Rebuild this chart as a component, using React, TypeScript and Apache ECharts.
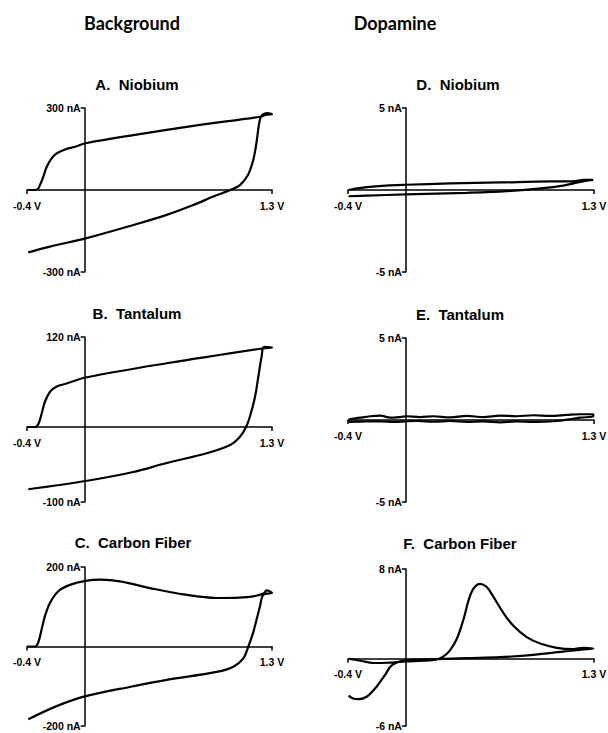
import React, { useEffect, useRef } from "react";
import * as echarts from "echarts";

// Cyclic voltammograms: [potential (V), current (nA)]
const bgNiobium: [number, number][] = [
  [-0.4, 0], [-0.333, 1], [-0.31, 18], [-0.287, 49], [-0.263, 85], [-0.229, 116], [-0.194, 134],
  [-0.136, 148], [-0.067, 158], [0.007, 171], [0.338, 201], [0.8, 238], [1.217, 268], [1.263, 276],
  [1.3, 277], [1.27, 281], [1.235, 276], [1.215, 255], [1.19, 165], [1.167, 104], [1.133, 55],
  [1.078, 18], [1.01, 0], [0.893, -24], [0.754, -55], [0.569, -91], [0.338, -128],
  [0.007, -177], [-0.24, -207], [-0.391, -228],
];
const bgTantalum: [number, number][] = [
  [-0.4, 0], [-0.344, 0], [-0.321, 4], [-0.298, 18], [-0.275, 34], [-0.24, 47], [-0.194, 54],
  [-0.125, 58], [0.007, 66], [0.569, 85], [1.24, 105], [1.3, 106], [1.245, 107], [1.228, 94],
  [1.205, 67], [1.182, 40], [1.147, 14], [1.12, 0], [1.078, -13], [1.009, -24], [0.847, -35],
  [0.569, -48], [0.338, -60], [0.007, -72], [-0.391, -83],
];
const bgCarbon: [number, number][] = [
  [-0.4, 0], [-0.344, 0], [-0.321, 11], [-0.298, 44], [-0.275, 77], [-0.24, 110], [-0.183, 139],
  [-0.102, 155], [0.007, 165], [0.107, 168], [0.245, 164], [0.453, 147], [0.685, 131], [0.916, 122],
  [1.147, 125], [1.24, 133], [1.263, 141], [1.3, 135], [1.24, 130], [1.217, 102], [1.194, 69],
  [1.166, 31], [1.136, 0], [1.101, -30], [1.032, -51], [0.916, -64], [0.569, -84], [0.338, -100],
  [0.007, -125], [-0.194, -150], [-0.391, -183],
];
const daNiobium: [number, number][] = [
  [-0.396, 0], [-0.269, 0.17], [-0.138, 0.27], [0.002, 0.32], [0.306, 0.4], [0.651, 0.46],
  [0.996, 0.52], [1.157, 0.52], [1.226, 0.62], [1.295, 0.62], [1.272, 0.6], [1.18, 0.44],
  [1.088, 0.27], [0.95, 0.11], [0.697, -0.07], [0.421, -0.17], [0.002, -0.27], [-0.269, -0.34],
  [-0.396, -0.38],
];
const daTantalum: [number, number][] = [
  [-0.396, 0.02], [-0.315, 0.14], [-0.246, 0.23], [-0.177, 0.27], [-0.108, 0.14], [-0.039, 0.18],
  [0.002, 0.23], [0.099, 0.18], [0.191, 0.23], [0.306, 0.16], [0.421, 0.25], [0.536, 0.18],
  [0.651, 0.27], [0.766, 0.23], [0.881, 0.29], [0.996, 0.25], [1.112, 0.31], [1.203, 0.35],
  [1.295, 0.35], [1.295, 0.23], [1.203, 0.14], [1.112, 0.02], [1.04, -0.06], [0.881, -0.12],
  [0.766, -0.08], [0.651, -0.14], [0.536, -0.08], [0.421, -0.12], [0.306, -0.06], [0.191, -0.1],
  [0.08, -0.06], [0.002, -0.08], [-0.08, -0.12], [-0.177, -0.08], [-0.269, -0.08], [-0.396, -0.12],
];
const daCarbon: [number, number][] = [
  [-0.396, 0], [-0.315, -0.18], [-0.223, -0.38], [-0.131, -0.36], [0.002, -0.24], [0.122, -0.18],
  [0.214, -0.06], [0.26, 0.2], [0.306, 0.77], [0.352, 1.78], [0.398, 3.5], [0.433, 5.2],
  [0.467, 6.25], [0.513, 6.68], [0.559, 6.39], [0.605, 5.52], [0.674, 4.08], [0.743, 2.93],
  [0.835, 1.92], [0.928, 1.35], [1.043, 0.97], [1.157, 0.86], [1.226, 0.97], [1.295, 0.92],
  [1.25, 0.86], [1.112, 0.68], [0.881, 0.34], [0.651, 0.14], [0.421, 0.05], [0.214, -0.04],
  [0.002, -0.12], [-0.096, -0.57], [-0.143, -1.43], [-0.2, -2.45], [-0.269, -3.37], [-0.327, -3.6],
  [-0.365, -3.55], [-0.396, -3.3],
];

const potentialRange: [number, number] = [-0.4, 1.3];
const potentialTicks = [-0.4, 1.3];
const panelTitles = ["A.\u00A0 Niobium", "B.\u00A0 Tantalum", "C.\u00A0 Carbon Fiber", "D.\u00A0 Niobium", "E.\u00A0 Tantalum", "F.\u00A0 Carbon Fiber"];
const currentRanges: [number, number][] = [[-300, 300], [-100, 120], [-200, 200], [-5, 5], [-5, 5], [-6, 8]];
const panelData = [bgNiobium, bgTantalum, bgCarbon, daNiobium, daTantalum, daCarbon];
const columnHeaders = ["Background", "Dopamine"];

// layout
const grids = [
  { left: 27, top: 108, width: 245, height: 164 },
  { left: 27, top: 337, width: 245, height: 165 },
  { left: 27, top: 567, width: 245, height: 159 },
  { left: 348, top: 108, width: 246, height: 164 },
  { left: 348, top: 338, width: 246, height: 164 },
  { left: 348, top: 569, width: 246, height: 157 },
];
const titlePos = [
  [137, 84], [137, 313], [133, 542], [458, 84], [460, 314], [460, 543],
];
const headerPos = [[132, 23], [395, 23]];

export default function App() {
  const ref = useRef<HTMLDivElement>(null);
  useEffect(() => {
    document.body.style.margin = "0";
    if (!ref.current) return;
    const chart = echarts.init(ref.current, undefined, { renderer: "svg" });
    const labelFont = { fontFamily: "Liberation Sans", fontWeight: "bold" as const, fontSize: 10.5, color: "#000" };
    const axisLine = { onZero: false, lineStyle: { color: "#000", width: 1.5 } };
    const tickStyle = { color: "#000", width: 1.5 };
    chart.setOption({
      animation: false,
      backgroundColor: "#fff",
      grid: grids.map((g) => ({ ...g, containLabel: false, outerBoundsMode: "none" })),
      xAxis: grids.map((g, i) => {
        const [lo, hi] = currentRanges[i];
        return {
          type: "value",
          gridIndex: i,
          position: "bottom",
          offset: -g.height * (0 - lo) / (hi - lo),
          min: potentialRange[0],
          max: potentialRange[1],
          axisLine,
          splitLine: { show: false },
          axisTick: { show: true, customValues: potentialTicks, length: 4, lineStyle: tickStyle },
          axisLabel: { ...labelFont, customValues: potentialTicks, margin: 10, formatter: (v: number) => `${v} V` },
        };
      }),
      yAxis: grids.map((g, i) => ({
        type: "value",
        gridIndex: i,
        position: "left",
        offset: -g.width * (0 - potentialRange[0]) / (potentialRange[1] - potentialRange[0]),
        min: currentRanges[i][0],
        max: currentRanges[i][1],
        axisLine,
        splitLine: { show: false },
        axisTick: { show: true, customValues: currentRanges[i], length: 4, lineStyle: tickStyle },
        axisLabel: { ...labelFont, customValues: currentRanges[i], margin: 4, formatter: (v: number) => `${v} nA` },
      })),
      series: panelData.map((d, i) => ({
        type: "line",
        xAxisIndex: i,
        yAxisIndex: i,
        data: d,
        showSymbol: false,
        smooth: 0.35,
        lineStyle: { color: "#000", width: 2.2 },
        clip: false,
      })),
      graphic: [
        ...columnHeaders.map((t, i) => ({
          type: "text",
          x: headerPos[i][0],
          y: headerPos[i][1],
          style: { text: t, fontFamily: "Lato", fontWeight: "bold", fontSize: 18, fill: "#000", align: "center", verticalAlign: "middle", textAlign: "center", textVerticalAlign: "middle" },
        })),
        ...panelTitles.map((t, i) => ({
          type: "text",
          x: titlePos[i][0],
          y: titlePos[i][1],
          style: { text: t, fontFamily: "Liberation Sans", fontWeight: "bold", fontSize: 15, fill: "#000", align: "center", verticalAlign: "middle", textAlign: "center", textVerticalAlign: "middle" },
        })),
      ],
    });
    return () => chart.dispose();
  }, []);
  return <div ref={ref} style={{ width: 608, height: 733 }} />;
}
